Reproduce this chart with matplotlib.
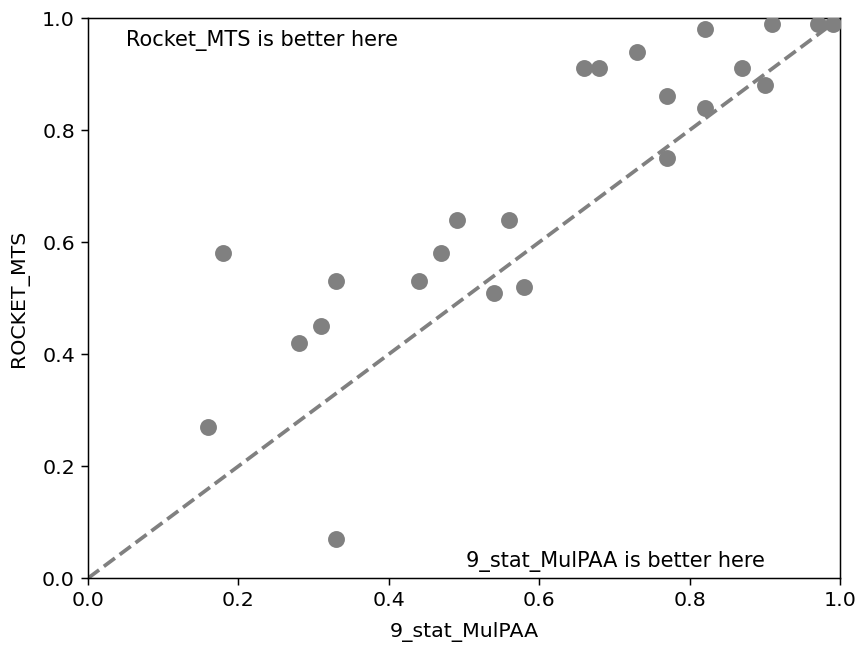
import numpy as np
import matplotlib.pyplot as plt

# accuracy per dataset for the two methods
mulpaa_acc = [0.16, 0.18, 0.28, 0.31, 0.33, 0.33, 0.44, 0.47, 0.49, 0.54, 0.56, 0.58,
              0.66, 0.68, 0.73, 0.77, 0.77, 0.82, 0.82, 0.87, 0.90, 0.91, 0.97, 0.99]
rocket_acc = [0.27, 0.58, 0.42, 0.45, 0.53, 0.07, 0.53, 0.58, 0.64, 0.51, 0.64, 0.52,
              0.91, 0.91, 0.94, 0.86, 0.75, 0.98, 0.84, 0.91, 0.88, 0.99, 0.99, 0.99]

dpi = 134.1
fig = plt.figure(figsize=(858 / dpi, 646 / dpi), dpi=dpi)
ax = fig.add_axes([0.1026, 0.105, 0.8765, 0.867])

ax.plot([0, 1], [0, 1], linestyle='--', color='gray', linewidth=2)
ax.scatter(mulpaa_acc, rocket_acc, color='gray', s=65, zorder=3)

ax.text(0.05, 0.96, 'Rocket_MTS is better here', fontsize=11.2, ha='left', va='center')
ax.text(0.9, 0.03, '9_stat_MulPAA is better here', fontsize=11.2, ha='right', va='center')

ax.set_xlim(0, 1)
ax.set_ylim(0, 1)
ax.set_xlabel('9_stat_MulPAA', fontsize=11, labelpad=6.5)
ax.set_ylabel('ROCKET_MTS', fontsize=11, labelpad=7)
ax.tick_params(labelsize=11)

plt.savefig('out.png', dpi=dpi)
